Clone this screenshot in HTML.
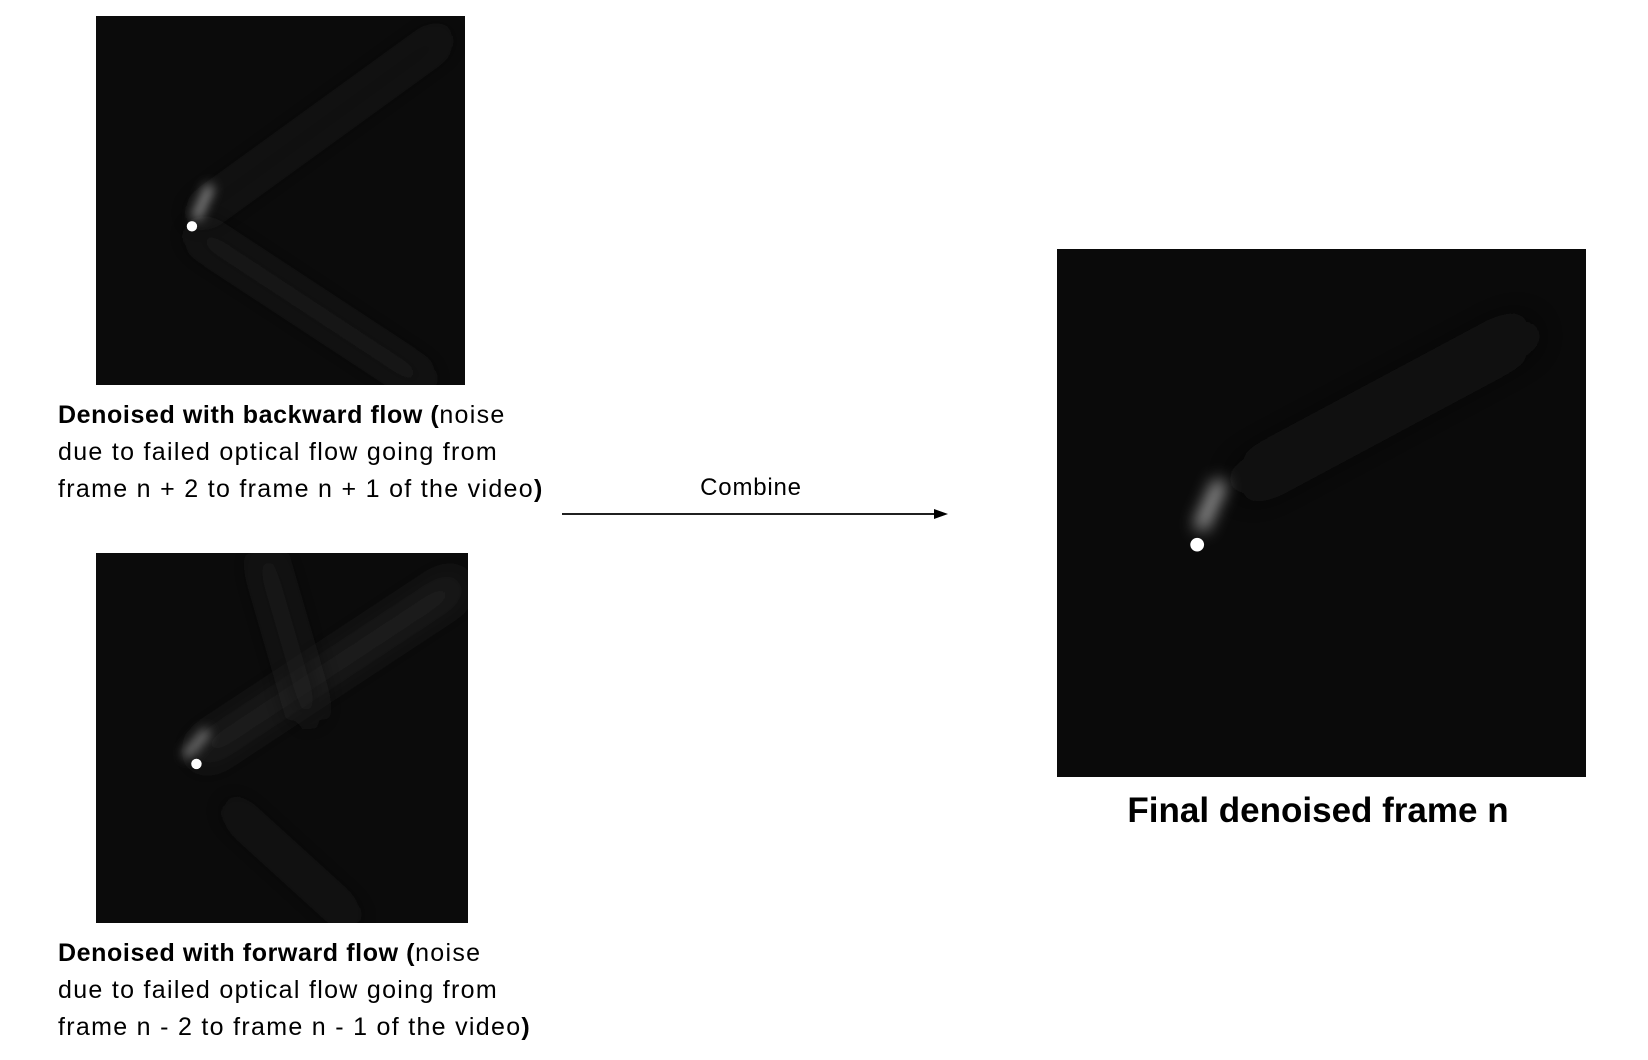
<!DOCTYPE html>
<html><head><meta charset="utf-8"><style>
html,body{margin:0;padding:0;background:#fff;}
body{width:1648px;height:1060px;position:relative;overflow:hidden;font-family:"Liberation Sans",sans-serif;color:#000;}
.img{position:absolute;background:#0b0b0b;overflow:hidden;}
.img svg{position:absolute;left:0;top:0;width:100%;height:100%;}
.cap{position:absolute;left:58px;font-size:25px;letter-spacing:1.3px;line-height:37px;white-space:nowrap;}
.cap b{font-weight:bold;letter-spacing:0.6px;}
</style></head><body>
<svg width="0" height="0" style="position:absolute"><defs>
<filter id="bl" x="-100%" y="-100%" width="300%" height="300%"><feGaussianBlur stdDeviation="4"/></filter>
<filter id="bl2" x="-100%" y="-100%" width="300%" height="300%"><feGaussianBlur stdDeviation="1.5"/></filter>
</defs></svg>

<div class="img" style="left:96px;top:16px;width:369px;height:369px;">
<svg viewBox="0 0 100 100" preserveAspectRatio="none">
<path d="M26 55 L95 5" stroke="#1e1e1e" stroke-width="5" filter="url(#bl)"/>
<path d="M26 58 L90 100" stroke="#1b1b1b" stroke-width="6" filter="url(#bl)"/>
<path d="M27 55 L31 46" stroke="#999" stroke-width="2.2" filter="url(#bl2)"/>
<circle cx="26" cy="57" r="1.4" fill="#fff"/>
</svg></div>
<div class="cap" style="top:397px;"><b>Denoised with backward flow (</b>noise<br>due to failed optical flow going from<br>frame n + 2 to frame n + 1 of the video<b>)</b></div>

<div class="img" style="left:96px;top:553px;width:372px;height:370px;">
<svg viewBox="0 0 100 100" preserveAspectRatio="none">
<path d="M27 55 L98 8" stroke="#262626" stroke-width="6" filter="url(#bl)"/>
<path d="M45 0 L58 45" stroke="#1e1e1e" stroke-width="6" filter="url(#bl)"/>
<path d="M35 68 L70 100" stroke="#1e1e1e" stroke-width="4" filter="url(#bl)"/>
<path d="M24 55 L30 48" stroke="#777" stroke-width="2.5" filter="url(#bl2)"/>
<circle cx="27" cy="57" r="1.4" fill="#fff"/>
</svg></div>
<div class="cap" style="top:935px;"><b>Denoised with forward flow (</b>noise<br>due to failed optical flow going from<br>frame n - 2 to frame n - 1 of the video<b>)</b></div>

<div style="position:absolute;left:651px;width:200px;text-align:center;top:474px;font-size:24px;letter-spacing:0.8px;">Combine</div>
<svg style="position:absolute;left:560px;top:506px;" width="392" height="16">
<line x1="2" y1="8" x2="376" y2="8" stroke="#000" stroke-width="1.8"/>
<polygon points="374,3 388,8 374,13" fill="#000"/>
</svg>

<div class="img" style="left:1057px;top:249px;width:529px;height:528px;background:#0a0a0a;">
<svg viewBox="0 0 100 100" preserveAspectRatio="none">
<path d="M34 45 L90 15" stroke="#151515" stroke-width="6" filter="url(#bl)"/>
<path d="M27 53 L31 44" stroke="#aaa" stroke-width="2.4" filter="url(#bl2)"/>
<circle cx="26.5" cy="56" r="1.3" fill="#fff"/>
</svg></div>
<div style="position:absolute;left:1068px;width:500px;text-align:center;top:791px;font-size:35px;font-weight:bold;">Final denoised frame n</div>
</body></html>
